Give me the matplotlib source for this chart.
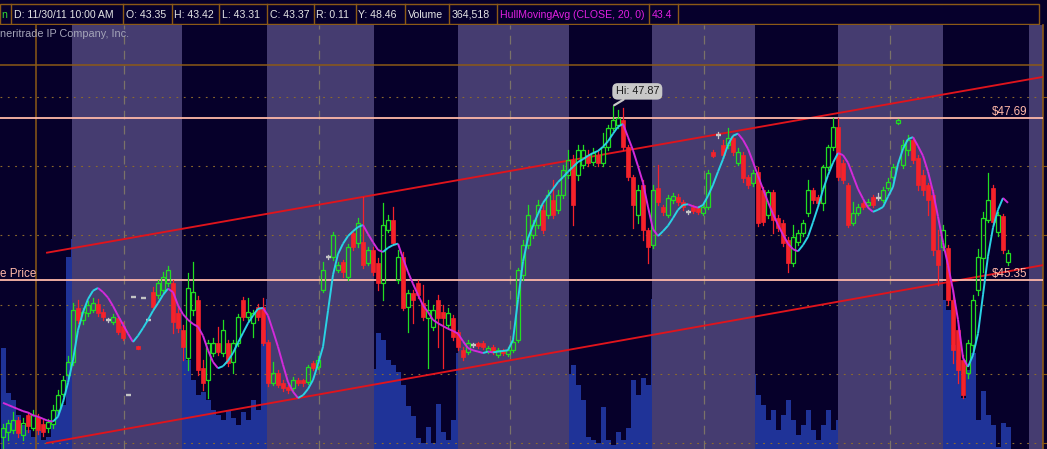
"""
Intraday 10 min chart in thinkorswim style:
candles, Hull moving average, volume, a price channel and two price levels.
"""

import numpy as np
import matplotlib
matplotlib.use('Agg')
import matplotlib.pyplot as plt
from matplotlib.patches import Rectangle
from matplotlib.collections import LineCollection

plt.rcParams['font.family'] = ['Liberation Sans', 'DejaVu Sans']

# ---------------- data (prices in $, volume in thousands) ----------------
opens = [
    43.09, 43.16, 43.19, 43.33, 43.12, 43.40, 43.22, 43.38, 43.28, 43.22,
    43.27, 43.48, 43.71, 43.98, 44.17, 44.95, 44.78, 44.88, 44.92, 45.01,
    44.89, 44.78, 44.75, 44.81, 44.69, 43.69, 45.11, 44.40, 45.10, 44.78,
    45.18, 45.14, 45.21, 45.31, 45.31, 44.88, 44.63, 44.23, 44.92, 45.07,
    44.08, 43.91, 44.30, 44.45, 44.30, 44.45, 44.17, 44.45, 45.07, 44.82,
    44.73, 44.97, 44.97, 44.46, 43.87, 44.01, 43.87, 43.81, 43.79, 43.91,
    43.91, 43.88, 44.16, 44.10, 45.21, 45.69, 45.69, 45.50, 45.62, 45.40,
    46.03, 45.89, 45.90, 45.60, 45.79, 45.60, 45.31, 46.08, 46.22, 45.36,
    45.69, 44.97, 45.17, 45.31, 45.02, 44.81, 44.68, 45.07, 44.89, 44.71,
    44.81, 44.60, 44.34, 44.32, 44.42, 44.45, 44.45, 44.33, 44.39, 44.27,
    44.33, 44.29, 44.34, 44.49, 45.43, 45.86, 46.01, 46.15, 46.37, 46.29,
    46.51, 46.37, 46.58, 46.87, 47.09, 46.87, 47.02, 47.16, 47.06, 47.16,
    47.05, 47.28, 47.55, 47.60, 47.67, 47.28, 46.84, 46.29, 46.73, 46.08,
    45.86, 46.69, 46.41, 46.29, 46.51, 46.56, 46.48, 46.34, 46.41, 46.40,
    46.32, 46.41, 47.21, 47.45, 47.31, 47.31, 47.41, 47.05, 47.16, 46.84,
    46.76, 46.92, 46.66, 46.29, 46.63, 46.25, 46.18, 45.93, 45.60, 45.90,
    46.03, 46.32, 46.66, 46.56, 46.47, 46.99, 47.28, 47.57, 47.05, 46.73,
    46.18, 46.32, 46.47, 46.44, 46.56, 46.54, 46.51, 46.69, 46.84, 47.62,
    47.02, 47.23, 47.38, 47.12, 46.87, 46.73, 46.58, 45.79, 45.83, 45.82,
    45.07, 44.63, 44.20, 44.01, 44.42, 45.21, 45.67, 46.22, 46.69, 46.05,
    46.28, 45.62,
]
highs = [
    43.28, 43.33, 43.45, 43.38, 43.36, 43.45, 43.48, 43.42, 43.33, 43.35,
    43.55, 43.77, 43.97, 44.26, 45.02, 45.07, 44.95, 45.05, 45.10, 45.08,
    44.94, 44.81, 44.86, 44.85, 44.75, 43.69, 45.11, 44.40, 45.10, 44.78,
    45.25, 45.36, 45.47, 45.56, 45.36, 44.99, 44.71, 45.46, 45.62, 45.12,
    44.20, 44.49, 44.52, 44.68, 44.78, 44.49, 44.49, 44.86, 45.11, 45.10,
    44.92, 45.01, 45.10, 44.49, 44.17, 44.05, 43.91, 43.84, 43.95, 43.94,
    43.93, 44.13, 44.19, 44.26, 45.62, 45.72, 46.05, 45.62, 45.64, 45.88,
    46.08, 46.25, 46.56, 45.83, 45.83, 45.67, 46.47, 46.29, 46.41, 45.79,
    45.76, 45.21, 45.21, 45.36, 45.28, 45.07, 44.99, 45.14, 44.99, 44.95,
    44.85, 44.63, 44.39, 44.49, 44.45, 44.46, 44.47, 44.40, 44.42, 44.37,
    44.36, 44.39, 44.52, 45.53, 45.93, 46.44, 46.22, 46.51, 46.44, 46.66,
    46.80, 46.66, 47.02, 47.23, 47.16, 47.31, 47.31, 47.23, 47.26, 47.23,
    47.48, 47.60, 47.87, 47.81, 47.84, 47.31, 46.87, 46.73, 46.80, 46.11,
    46.73, 47.02, 46.44, 46.58, 46.61, 46.60, 46.51, 46.37, 46.44, 46.42,
    46.44, 46.95, 47.23, 47.49, 47.38, 47.55, 47.45, 47.26, 47.21, 46.87,
    46.95, 46.99, 46.70, 46.66, 46.66, 46.29, 46.22, 45.98, 46.15, 46.08,
    46.22, 46.80, 46.69, 46.58, 47.02, 47.31, 47.70, 47.70, 47.09, 46.76,
    46.48, 46.45, 46.50, 46.53, 46.58, 46.61, 46.70, 46.83, 47.03, 47.68,
    47.38, 47.45, 47.42, 47.16, 46.95, 46.76, 46.66, 46.08, 46.15, 45.86,
    45.21, 44.71, 44.27, 44.49, 45.14, 45.80, 46.34, 46.90, 46.73, 46.34,
    46.31, 45.79,
]
lows = [
    42.91, 43.04, 43.15, 43.09, 43.04, 43.16, 43.19, 43.13, 43.10, 43.16,
    43.22, 43.45, 43.68, 43.94, 44.13, 44.73, 44.72, 44.84, 44.89, 44.84,
    44.78, 44.75, 44.72, 44.58, 44.49, 43.69, 45.11, 44.36, 45.10, 44.78,
    44.92, 45.10, 45.18, 45.27, 44.59, 44.60, 44.20, 44.05, 44.85, 43.98,
    43.77, 43.65, 44.26, 44.27, 44.26, 44.11, 44.01, 44.40, 44.78, 44.78,
    44.53, 44.78, 44.42, 43.82, 43.84, 43.81, 43.75, 43.72, 43.75, 43.84,
    43.82, 43.85, 44.05, 44.07, 45.18, 45.66, 45.64, 45.47, 45.40, 45.36,
    45.79, 45.83, 45.53, 45.57, 45.43, 45.21, 45.07, 46.05, 45.86, 45.31,
    44.92, 44.60, 44.73, 45.10, 44.78, 44.08, 44.63, 44.39, 44.08, 44.66,
    44.49, 44.34, 44.20, 44.29, 44.39, 44.37, 44.36, 44.30, 44.29, 44.24,
    44.27, 44.26, 44.32, 44.46, 45.36, 45.82, 45.96, 46.11, 46.03, 46.25,
    46.25, 46.32, 46.54, 46.83, 46.15, 46.80, 46.97, 47.00, 47.02, 47.00,
    47.00, 47.23, 47.52, 47.55, 47.23, 46.80, 46.11, 46.18, 45.93, 45.60,
    45.82, 46.44, 46.29, 46.27, 46.47, 46.44, 46.37, 46.31, 46.32, 46.31,
    46.29, 46.38, 47.13, 47.41, 47.12, 47.26, 47.16, 47.02, 46.77, 46.69,
    46.71, 46.14, 46.15, 46.25, 46.03, 46.06, 45.85, 45.47, 45.56, 45.86,
    45.99, 46.28, 46.47, 46.42, 46.37, 46.95, 47.23, 46.80, 46.76, 46.12,
    46.15, 46.29, 46.38, 46.41, 46.41, 46.51, 46.48, 46.66, 46.80, 47.61,
    46.97, 47.16, 47.05, 46.66, 46.58, 46.29, 45.72, 45.28, 45.79, 44.99,
    44.16, 43.87, 43.65, 43.94, 44.34, 45.14, 45.47, 46.19, 46.15, 45.99,
    45.75, 45.57,
]
closes = [
    43.22, 43.29, 43.33, 43.15, 43.29, 43.24, 43.40, 43.19, 43.16, 43.31,
    43.48, 43.69, 43.91, 44.17, 44.92, 44.78, 44.89, 44.99, 45.02, 44.88,
    44.82, 44.78, 44.82, 44.60, 44.52, 43.69, 45.11, 44.36, 45.10, 44.78,
    44.97, 45.31, 45.40, 45.50, 44.75, 44.66, 44.39, 45.24, 45.18, 44.05,
    43.87, 44.45, 44.45, 44.32, 44.63, 44.16, 44.45, 44.82, 44.82, 44.89,
    44.88, 44.82, 44.45, 43.87, 44.01, 43.84, 43.79, 43.77, 43.91, 43.87,
    43.87, 44.10, 44.08, 44.20, 45.50, 45.69, 46.01, 45.57, 45.47, 45.83,
    45.83, 46.18, 45.57, 45.79, 45.47, 45.31, 46.15, 46.22, 45.89, 45.69,
    44.95, 45.17, 45.07, 45.14, 44.82, 44.92, 44.92, 44.81, 44.81, 44.88,
    44.53, 44.39, 44.24, 44.45, 44.42, 44.40, 44.39, 44.37, 44.32, 44.34,
    44.30, 44.34, 44.46, 45.50, 45.86, 46.29, 46.15, 46.44, 46.08, 46.58,
    46.29, 46.58, 46.95, 47.09, 46.44, 47.23, 47.23, 47.05, 47.19, 47.05,
    47.28, 47.55, 47.67, 47.70, 47.28, 46.84, 46.44, 46.66, 46.08, 45.83,
    46.66, 46.48, 46.34, 46.54, 46.57, 46.48, 46.41, 46.34, 46.35, 46.34,
    46.41, 46.90, 47.15, 47.45, 47.16, 47.41, 47.21, 47.21, 46.83, 46.73,
    46.90, 46.18, 46.19, 46.63, 46.22, 46.11, 45.89, 45.60, 45.98, 46.03,
    46.18, 46.66, 46.51, 46.47, 46.99, 47.28, 47.57, 46.84, 46.80, 46.15,
    46.32, 46.41, 46.41, 46.48, 46.44, 46.54, 46.66, 46.77, 46.99, 47.67,
    47.31, 47.38, 47.09, 46.73, 46.66, 46.51, 45.79, 45.57, 46.08, 45.07,
    44.34, 44.05, 43.69, 44.45, 45.07, 45.69, 46.25, 46.51, 46.19, 46.29,
    45.79, 45.75,
]
# HullMovingAvg(CLOSE, 20) as drawn on the chart
hull_ma = [
    43.58, 43.55, 43.52, 43.49, 43.46, 43.44, 43.40, 43.38, 43.35, 43.32,
    43.31, 43.38, 43.59, 43.87, 44.20, 44.63, 44.89, 45.08, 45.20, 45.24,
    45.18, 45.10, 44.98, 44.84, 44.71, 44.58, 44.46, 44.55, 44.66, 44.78,
    44.91, 45.02, 45.14, 45.23, 45.18, 44.99, 44.86, 44.78, 44.72, 44.68,
    44.55, 44.34, 44.17, 44.08, 44.11, 44.19, 44.30, 44.45, 44.59, 44.73,
    44.84, 44.94, 44.95, 44.84, 44.62, 44.39, 44.13, 43.88, 43.74, 43.65,
    43.69, 43.78, 43.91, 44.14, 44.39, 44.91, 45.43, 45.73, 45.88, 45.99,
    46.06, 46.12, 46.15, 46.02, 45.90, 45.79, 45.76, 45.82, 45.86, 45.88,
    45.67, 45.47, 45.30, 45.14, 44.99, 44.89, 44.78, 44.73, 44.69, 44.65,
    44.62, 44.58, 44.47, 44.37, 44.34, 44.32, 44.30, 44.32, 44.31, 44.32,
    44.33, 44.34, 44.49, 45.07, 45.62, 45.96, 46.14, 46.31, 46.47, 46.57,
    46.67, 46.77, 46.84, 46.92, 46.99, 47.06, 47.10, 47.15, 47.19, 47.22,
    47.28, 47.36, 47.47, 47.57, 47.61, 47.42, 47.23, 47.00, 46.76, 46.41,
    46.09, 45.99, 46.06, 46.14, 46.25, 46.37, 46.44, 46.45, 46.42, 46.40,
    46.44, 46.57, 46.73, 46.92, 47.10, 47.31, 47.44, 47.47, 47.38, 47.25,
    47.06, 46.86, 46.67, 46.48, 46.31, 46.15, 46.01, 45.88, 45.80, 45.77,
    45.86, 45.98, 46.19, 46.41, 46.66, 46.87, 47.05, 47.19, 47.16, 47.05,
    46.86, 46.67, 46.53, 46.40, 46.34, 46.37, 46.41, 46.56, 46.70, 47.03,
    47.25, 47.39, 47.42, 47.29, 47.15, 46.92, 46.63, 46.27, 45.90, 45.57,
    45.21, 44.78, 44.23, 44.10, 44.27, 44.58, 45.14, 45.70, 46.11, 46.37,
    46.54, 46.47,
]
volume_k = [
    202, 112, 98, 68, 48, 38, 24, 38, 18, 24, 48, 78, 88, 384,
    420, 260, 180, 150, 120, 140, 100, 90, 80, 110, 130, 70, 60, 90, 80, 120,
    150, 130, 110, 160, 180, 200,
    218, 178, 138, 108, 114, 98, 78, 68, 58, 78, 62, 48, 74, 58, 98, 78, 238,
    300, 200, 160, 140, 120, 110, 100, 130, 120, 150, 180, 420, 300, 220, 180,
    160, 200, 150, 140, 260, 180, 160,
    232, 218, 178, 168, 154, 128, 86, 66, 22, 12, 44, 12, 90, 34, 18, 58, 192,
    180, 120, 90, 70, 60, 60, 50, 60, 70, 80, 90, 400, 380, 260, 200, 180,
    160, 150, 170, 140, 160, 150,
    168, 128, 98, 24, 18, 12, 84, 18, 8, 34, 18, 42, 138, 108, 142, 128,
    300, 220, 180, 140, 120, 100, 90, 80, 70, 90, 200, 260, 240, 180, 160,
    150, 140, 160, 180, 170, 150,
    108, 88, 58, 78, 38, 68, 98, 58, 28, 48, 78, 38, 18, 48, 78, 38, 58,
    220, 180, 160, 120, 100, 90, 80, 80, 100, 140, 160, 180, 200, 170, 160,
    180, 200, 220, 260, 300,
    298, 278, 208, 178, 102, 158, 192, 58, 116, 68, 48, 4, 52, 44,
]

# regular-session shading and day breaks (bar units)
session_spans = [(13.8, 35.8), (52.8, 74.2), (91.0, 113.2),
                 (129.8, 150.4), (167.0, 188.0), (205.2, 208.5)]
day_breaks = [24.2, 63.2, 101.4, 140.2, 177.4]
chart_start = 6.6
prev_close = 48.46
price_levels = [47.69, 45.35]
channel_upper = ([8.8, 208.0], [45.75, 48.29])
channel_lower = ([8.8, 208.0], [43.00, 45.57])

header_labels = ["D: 11/30/11 10:00 AM", "O: 43.35", "H: 43.42", "L: 43.31",
                 "C: 43.37", "R: 0.11", "Y: 48.46", "Volume", "364,518",
                 "HullMovingAvg (CLOSE, 20, 0)", "43.4"]

# colours
NAVY = '#0B024C'
BAND = '#453C70'
HEADER_BG = '#06002C'
BORDER = '#8C5A16'
GREEN = '#22DD22'
RED = '#F5222A'
GRAY = '#C4C4C4'
CYAN = '#2AD2E4'
MAGENTA = '#D22ADA'
PINK = '#FFB8A8'
VOL_BLUE = '#1F3398'

W, H = 1047, 449


def draw_header(fig):
    """Top information bar"""
    hax = fig.add_axes([0, 424 / H, 1, 25 / H])
    hax.set_xlim(0, W)
    hax.set_ylim(25, 0)
    hax.axis('off')
    hax.add_patch(Rectangle((0, 4), 1039, 20, fc=HEADER_BG, ec=BORDER, lw=1.0))

    edges = [11, 123, 172, 219, 267, 314, 356, 405, 449, 497, 649, 678]
    for x in edges:
        hax.plot([x, x], [4, 24], color=BORDER, lw=1.0)

    hax.text(1, 14.5, 'n', color='#33DD33', fontsize=7.6, va='center')
    for k, label in enumerate(header_labels):
        colour = '#E020E0' if k >= 9 else '#E4E4E4'
        hax.text(edges[k] + 2.5, 14.5, label, color=colour, fontsize=7.6,
                 va='center', ha='left')


def draw_candles(ax):
    """Green hollow up bars, red filled down bars, gray flat bars"""
    bw = 0.88
    for i, (o, h, l, c) in enumerate(zip(opens, highs, lows, closes)):
        if c > o:
            ax.add_patch(Rectangle((i - bw / 2, o), bw, c - o, fill=False,
                                   ec=GREEN, lw=0.9, zorder=5))
            ax.plot([i, i], [c, h], color=GREEN, lw=0.9, zorder=5)
            ax.plot([i, i], [l, o], color=GREEN, lw=0.9, zorder=5)
        elif c < o:
            body = max(o - c, 0.025)
            ax.add_patch(Rectangle((i - bw / 2, o - body), bw, body,
                                   fc=RED, ec=RED, lw=0.5, zorder=5))
            ax.plot([i, i], [l, h], color=RED, lw=0.9, zorder=5)
        else:
            ax.plot([i - 0.5, i + 0.5], [c, c], color=GRAY, lw=1.7,
                    solid_capstyle='butt', zorder=5)
            if h > l:
                ax.plot([i, i], [l, h], color=GRAY, lw=0.9, zorder=5)


def draw_hull(ax):
    """Hull MA: cyan while rising, magenta while falling"""
    x = np.arange(len(hull_ma))
    pts = np.column_stack([x, hull_ma])
    segs = np.stack([pts[:-1], pts[1:]], axis=1)
    rising = np.diff(hull_ma) > 0
    cols = [CYAN if r else MAGENTA for r in rising]
    ax.add_collection(LineCollection(segs, colors=cols, lw=1.4, zorder=6))


def main():
    fig = plt.figure(figsize=(W / 100, H / 100), dpi=100, facecolor='#06002A')
    draw_header(fig)

    rect = [0, 0, 1043 / W, 424 / H]
    xlim = (-0.6, 208.0)
    ylim = (42.913, 49.040)

    # volume sits underneath: the session shading hides it
    vax = fig.add_axes(rect, zorder=0)
    vax.set_facecolor(NAVY)
    vax.bar(np.arange(len(volume_k)), volume_k, width=1.0, color=VOL_BLUE, lw=0)
    vax.set_xlim(*xlim)
    vax.set_ylim(0, 848)
    vax.axis('off')

    ax = fig.add_axes(rect, zorder=1)
    ax.set_facecolor('none')
    ax.set_xlim(*xlim)
    ax.set_ylim(*ylim)

    for a, b in session_spans:
        ax.axvspan(a, b, color=BAND, lw=0, zorder=0.5)

    for p in np.arange(43, 49):
        ax.axhline(p, color='#8C6A2C', lw=0.8, ls=(0, (1.6, 5.0)), zorder=1)
    for d in day_breaks:
        ax.axvline(d, color='#7A7268', lw=0.9, ls=(0, (7, 5)), zorder=1)
    ax.axvline(chart_start, color=BORDER, lw=1.1, zorder=1)
    ax.axhline(prev_close, color=BORDER, lw=1.1, zorder=1)

    ax.plot(*channel_upper, color='#E0141C', lw=1.35, zorder=4)
    ax.plot(*channel_lower, color='#E0141C', lw=1.35, zorder=4)
    for lvl in price_levels:
        ax.axhline(lvl, color=PINK, lw=1.3, zorder=4)
        ax.annotate(f"${lvl:.2f}", xy=(204.8, lvl), xytext=(0, 2.6),
                    textcoords='offset points', ha='right', va='baseline',
                    color=PINK, fontsize=8.4, zorder=7)
    ax.annotate("e Price", xy=(-0.6, price_levels[1]), xytext=(0, 2.6),
                textcoords='offset points', ha='left', va='baseline',
                color=PINK, fontsize=8.4, zorder=7)

    draw_candles(ax)
    draw_hull(ax)

    # high of the period
    i_hi = int(np.argmax(highs))
    ax.annotate(f"Hi: {highs[i_hi]:.2f}", xy=(i_hi, highs[i_hi]),
                xytext=(17.5, 10.5), textcoords='offset points',
                ha='center', va='center', fontsize=7.8, color='#1A1A1A',
                bbox=dict(boxstyle='round,pad=0.3,rounding_size=0.5',
                          fc='#C8C8C8', ec='none'),
                arrowprops=dict(arrowstyle='-', color='#C8C8C8', lw=1.6,
                                shrinkA=0, shrinkB=1), zorder=8)

    ax.set_xticks([])
    ax.yaxis.tick_right()
    ax.set_yticks(np.arange(43, 49))
    ax.tick_params(axis='y', length=3, color=BORDER, labelright=False)
    for side in ['top', 'left', 'bottom']:
        ax.spines[side].set_visible(False)
    ax.spines['right'].set_color(BORDER)
    ax.spines['right'].set_linewidth(1.2)

    fig.text(0, 1 - 34 / H, "neritrade IP Company, Inc.", color='#A4A4B8',
             fontsize=7.8, va='center', ha='left')

    fig.savefig('out.png', dpi=100, facecolor=fig.get_facecolor())


if __name__ == "__main__":
    main()
